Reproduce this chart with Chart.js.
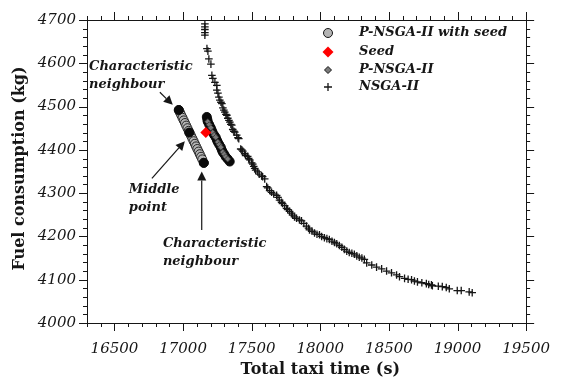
<!DOCTYPE html>
<html><head><meta charset="utf-8">
<script src="https://cdn.jsdelivr.net/npm/chart.js@4/dist/chart.umd.min.js"></script>
<style>html,body{margin:0;padding:0;background:#fff}</style>
</head><body>
<canvas id="c" width="567" height="382"></canvas>
<script>
// ---------- data ----------
const nsgaX = [17159,17159,17159,17159,17159,17174,17181,17188,17203,17210,17217,17232,17246,17246,17254,17261,17268,17276,17283,17290,17297,17304,17312,17319,17326,17334,17341,17348,17355,17362,17370,17377,17391,17400,17406,17420,17428,17435,17449,17456,17471,17478,17486,17500,17508,17515,17522,17529,17544,17555,17573,17580,17595,17609,17617,17631,17645,17660,17682,17692,17703,17718,17725,17740,17754,17762,17776,17790,17798,17812,17827,17848,17863,17880,17899,17914,17921,17940,17958,17976,17994,18010,18030,18048,18066,18085,18103,18120,18139,18157,18175,18193,18211,18230,18248,18266,18284,18303,18321,18338,18375,18410,18447,18483,18519,18556,18577,18614,18640,18665,18686,18708,18740,18773,18790,18810,18817,18860,18889,18918,18940,18998,19027,19085,19107];
const nsgaY = [4691,4684,4678,4671,4665,4634,4628,4610,4598,4572,4565,4556,4549,4538,4531,4522,4515,4510,4507,4497,4492,4487,4482,4480,4473,4468,4464,4459,4457,4447,4443,4441,4434,4428,4426,4402,4400,4397,4391,4387,4385,4380,4377,4370,4367,4362,4357,4353,4349,4344,4340,4338,4333,4315,4312,4306,4302,4298,4295,4290,4284,4279,4276,4271,4265,4262,4258,4254,4249,4245,4242,4238,4236,4230,4224,4219,4215,4212,4208,4205,4204,4200,4197,4195,4193,4189,4186,4183,4179,4175,4170,4166,4163,4161,4159,4155,4152,4150,4147,4139,4134,4129,4125,4120,4116,4111,4107,4103,4101,4100,4097,4095,4093,4091,4089,4088,4086,4085,4084,4082,4079,4075,4075,4072,4070];

const seededX = [16969,16978,16987,16996,17005,17014,17023,17032,17041,17050,17059,17068,17077,17086,17095,17104,17113,17122,17131,17140,17151];
const seededY = [4492,4486,4480,4474,4468,4462,4456,4450,4444,4438,4432,4426,4420,4414,4408,4402,4396,4390,4384,4378,4370];

const highlightX = [16969,17045,17151];
const highlightY = [4492,4440,4370];

const pnsgaBackX = [17173,17177,17180,17191,17202,17209,17216,17227,17238,17246,17253,17264,17275,17282,17289,17300,17311,17325,17340];
const pnsgaBackY = [4476,4470,4465,4458,4451,4445,4440,4434,4429,4423,4418,4412,4406,4400,4395,4390,4384,4379,4373];

const pnsgaX = [17180,17191,17202,17216,17227,17238,17253,17264,17275,17289,17300,17311,17325];
const pnsgaY = [4465,4458,4451,4440,4434,4429,4418,4412,4406,4395,4390,4384,4379];

const seedX = [17166];
const seedY = [4440];

const xTicks = [16500,17000,17500,18000,18500,19000,19500];
const yTicks = [4000,4100,4200,4300,4400,4500,4600,4700];
const xRange = [16300, 19500];
const yRange = [4000, 4700];
const xMinorStep = 100;
const yMinorStep = 20;

const xTitle = 'Total taxi time (s)';
const yTitle = 'Fuel consumption (kg)';
const legendLabels = ['P-NSGA-II with seed','Seed','P-NSGA-II','NSGA-II'];
const notes = [
  {lines:['Characteristic','neighbour'], x:16315, y:4592, arrow:[16831,4533,16925,4504]},
  {lines:['Middle','point'], x:16605, y:4309, arrow:[16773,4334,17013,4420]},
  {lines:['Characteristic','neighbour'], x:16853, y:4183, arrow:[17136,4215,17136,4350]}
];

const pts = (xs, ys) => xs.map((x, i) => ({x, y: ys[i]}));

const SERIF = '"DejaVu Serif", serif';
const INK = '#161616';

const frameTicks = {
  id: 'frameTicks',
  afterDatasetsDraw(chart) {
    const {ctx, chartArea: a, scales: {x, y}} = chart;
    ctx.save();
    ctx.strokeStyle = INK;
    ctx.lineWidth = 1;
    ctx.strokeRect(Math.round(a.left) + 0.5, Math.round(a.top) + 0.5, Math.round(a.right - a.left), Math.round(a.bottom - a.top));
    ctx.beginPath();
    for (let v = xRange[0]; v <= xRange[1]; v += xMinorStep) {
      const px = Math.round(x.getPixelForValue(v)) + 0.5;
      const len = v % 500 === 0 ? 8 : 4;
      ctx.moveTo(px, a.bottom); ctx.lineTo(px, a.bottom + len);
      ctx.moveTo(px, a.top); ctx.lineTo(px, a.top - len);
    }
    for (let v = yRange[0]; v <= yRange[1]; v += yMinorStep) {
      const py = Math.round(y.getPixelForValue(v)) + 0.5;
      const len = v % 100 === 0 ? 8 : 4;
      ctx.moveTo(a.left, py); ctx.lineTo(a.left - len, py);
      ctx.moveTo(a.right, py); ctx.lineTo(a.right + len, py);
    }
    ctx.stroke();

    // axis titles
    ctx.fillStyle = INK;
    ctx.font = 'bold 16px ' + SERIF;
    ctx.textAlign = 'center';
    ctx.textBaseline = 'middle';
    ctx.fillText(xTitle, x.getPixelForValue(18000), 370);
    ctx.save();
    ctx.translate(20, (a.top + a.bottom) / 2 - 3);
    ctx.rotate(-Math.PI / 2);
    ctx.fillText(yTitle, 0, 0);
    ctx.restore();

    // annotations
    ctx.fillStyle = INK;
    ctx.font = 'bold italic 13px ' + SERIF;
    ctx.textBaseline = 'middle';
    ctx.textAlign = 'left';
    notes.forEach(n => {
      const tx = x.getPixelForValue(n.x), ty = y.getPixelForValue(n.y);
      n.lines.forEach((l, i) => ctx.fillText(l, tx, ty + i * 18));
      const [x0, y0, x1, y1] = n.arrow;
      const ax0 = x.getPixelForValue(x0), ay0 = y.getPixelForValue(y0);
      const ax1 = x.getPixelForValue(x1), ay1 = y.getPixelForValue(y1);
      const ang = Math.atan2(ay1 - ay0, ax1 - ax0);
      const hl = 9, hw = 4.5;
      const bx = ax1 - hl * Math.cos(ang), by = ay1 - hl * Math.sin(ang);
      ctx.beginPath();
      ctx.lineWidth = 1.2;
      ctx.moveTo(ax0, ay0); ctx.lineTo(bx, by); ctx.stroke();
      ctx.beginPath();
      ctx.moveTo(ax1, ay1);
      ctx.lineTo(bx + hw * Math.sin(ang), by - hw * Math.cos(ang));
      ctx.lineTo(bx - hw * Math.sin(ang), by + hw * Math.cos(ang));
      ctx.closePath(); ctx.fill();
    });

    // legend
    const lx = 328, tx = 359, rows = [33, 52, 70, 87];
    ctx.font = 'bold italic 13px ' + SERIF;
    legendLabels.forEach((lab, i) => {
      const ly = rows[i];
      ctx.lineWidth = 1;
      ctx.beginPath();
      if (i === 0) {
        ctx.arc(lx, ly, 4.5, 0, Math.PI * 2);
        ctx.fillStyle = '#b4b4b4'; ctx.fill(); ctx.strokeStyle = INK; ctx.stroke();
      } else if (i === 1) {
        const r = 5.5;
        ctx.moveTo(lx, ly - r); ctx.lineTo(lx + r, ly); ctx.lineTo(lx, ly + r); ctx.lineTo(lx - r, ly); ctx.closePath();
        ctx.fillStyle = '#ff0000'; ctx.fill();
      } else if (i === 2) {
        const r = 3.5;
        ctx.moveTo(lx, ly - r); ctx.lineTo(lx + r, ly); ctx.lineTo(lx, ly + r); ctx.lineTo(lx - r, ly); ctx.closePath();
        ctx.fillStyle = '#7a7a7a'; ctx.fill(); ctx.strokeStyle = INK; ctx.stroke();
      } else {
        ctx.lineWidth = 1.3;
        ctx.moveTo(lx - 4, ly); ctx.lineTo(lx + 4, ly); ctx.moveTo(lx, ly - 4); ctx.lineTo(lx, ly + 4);
        ctx.strokeStyle = INK; ctx.stroke();
      }
      ctx.fillStyle = INK;
      ctx.fillText(lab, tx, ly);
    });
    ctx.restore();
  }
};

new Chart(document.getElementById('c'), {
  type: 'scatter',
  data: {
    datasets: [
      {label: 'Seed', data: pts(seedX, seedY), pointStyle: 'rectRot', radius: 5.5, backgroundColor: '#ff0000', borderColor: '#ff0000', borderWidth: 0},
      {label: 'P-NSGA-II', data: pts(pnsgaX, pnsgaY), pointStyle: 'rectRot', radius: 3, backgroundColor: '#7a7a7a', borderColor: '#333', borderWidth: 0.8},
      {label: '', data: pts(pnsgaBackX, pnsgaBackY), pointStyle: 'circle', radius: 4.5, backgroundColor: '#0a0a0a', borderColor: '#0a0a0a', borderWidth: 1},
      {label: '', data: pts(highlightX, highlightY), pointStyle: 'circle', radius: 4.5, backgroundColor: '#0a0a0a', borderColor: '#0a0a0a', borderWidth: 1},
      {label: 'P-NSGA-II with seed', data: pts(seededX, seededY), pointStyle: 'circle', radius: 4.5, backgroundColor: '#b4b4b4', borderColor: '#222', borderWidth: 1},
      {label: 'NSGA-II', data: pts(nsgaX, nsgaY), pointStyle: 'cross', radius: 3.8, backgroundColor: INK, borderColor: INK, borderWidth: 1.3}
    ]
  },
  options: {
    responsive: false,
    animation: false,
    devicePixelRatio: 1,
    events: [],
    layout: {padding: {top: 13, right: 40, left: 0, bottom: 0}},
    plugins: {legend: {display: false}, tooltip: {enabled: false}},
    scales: {
      x: {
        type: 'linear', min: xRange[0], max: xRange[1],
        afterFit(s) { s.height = 59; },
        afterBuildTicks(s) { s.ticks = xTicks.map(v => ({value: v})); },
        grid: {display: false, drawTicks: false},
        border: {display: false},
        ticks: {padding: 17, color: INK, font: {family: SERIF, style: 'italic', size: 15}, maxRotation: 0, callback: v => String(v)},
        title: {display: false}
      },
      y: {
        type: 'linear', min: yRange[0], max: yRange[1],
        afterFit(s) { s.width = 87; },
        afterBuildTicks(s) { s.ticks = yTicks.map(v => ({value: v})); },
        grid: {display: false, drawTicks: false},
        border: {display: false},
        ticks: {padding: 11, color: INK, font: {family: SERIF, style: 'italic', size: 15}, callback: v => String(v)},
        title: {display: false}
      }
    }
  },
  plugins: [frameTicks]
});
</script>
</body></html>
